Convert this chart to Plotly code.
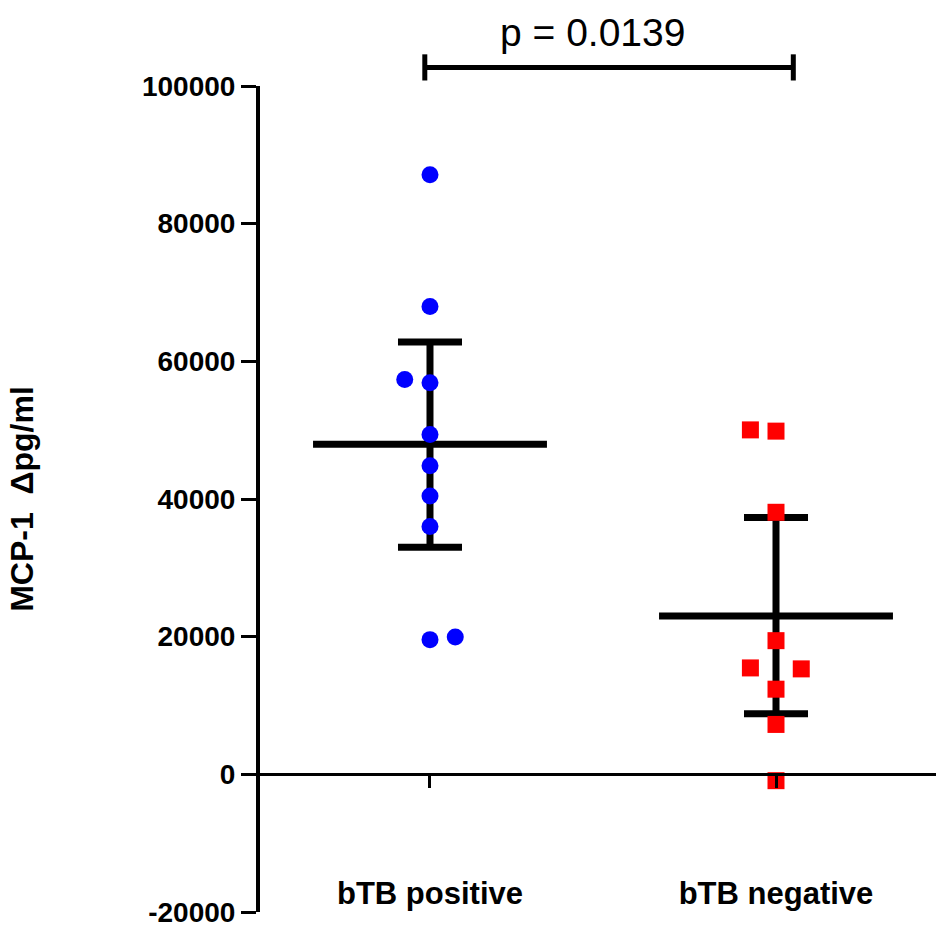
import plotly.graph_objects as go

# ---- data ----
categories = ["bTB positive", "bTB negative"]
positive_values = [87100, 67970, 57350, 56900, 49380, 44830, 40430, 35990, 19570, 19950]
positive_jitter = [0, 0, -0.073, 0, 0, 0, 0, 0, 0, 0.073]
negative_values = [50040, 49860, 38070, 19420, 15460, 15320, 12370, 7250, -920]
negative_jitter = [-0.074, 0, 0, 0, -0.074, 0.073, 0, 0, 0]
means = [47950, 23000]
err_upper = [62800, 37300]
err_lower = [33000, 8800]
y_ticks = [-20000, 0, 20000, 40000, 60000, 80000, 100000]
y_tick_labels = ["-20000", "0", "20000", "40000", "60000", "80000", "100000"]
p_text = "p = 0.0139"
bracket_level = 102700
bracket_tick = 1900

y_min, y_max = -20000, 100000
mean_half = 0.338
cap_half = 0.0925
FONT = "Liberation Sans, Arial"

fig = go.Figure()

# error bars + mean lines
for i, (m, lo, hi) in enumerate(zip(means, err_lower, err_upper)):
    c = i + 1
    xs = [c - mean_half, c + mean_half, None, c, c, None,
          c - cap_half, c + cap_half, None, c - cap_half, c + cap_half]
    ys = [m, m, None, lo, hi, None, hi, hi, None, lo, lo]
    fig.add_trace(go.Scatter(x=xs, y=ys, mode="lines",
                             line=dict(color="black", width=7),
                             hoverinfo="skip", showlegend=False))

fig.add_trace(go.Scatter(
    x=[1 + j for j in positive_jitter], y=positive_values, mode="markers",
    marker=dict(symbol="circle", size=17, color="#0000FF", line=dict(width=0)),
    name=categories[0], showlegend=False))
fig.add_trace(go.Scatter(
    x=[2 + j for j in negative_jitter], y=negative_values, mode="markers",
    marker=dict(symbol="square", size=17, color="#FF0000", line=dict(width=0)),
    name=categories[1], showlegend=False))

def to_paper(v):
    return (v - y_min) / (y_max - y_min)

bx0, bx1 = 0.985, 2.05
by = to_paper(bracket_level)
bt = to_paper(bracket_level + bracket_tick) - by
line_style = dict(color="black", width=5)
fig.add_shape(type="line", xref="x", yref="paper", x0=bx0, x1=bx1, y0=by, y1=by, line=line_style)
fig.add_shape(type="line", xref="x", yref="paper", x0=bx0, x1=bx0, y0=by - bt, y1=by + bt, line=line_style)
fig.add_shape(type="line", xref="x", yref="paper", x0=bx1, x1=bx1, y0=by - bt, y1=by + bt, line=line_style)
fig.add_annotation(xref="x", yref="paper", x=1.471, y=to_paper(bracket_level + 5000),
                   text=p_text, showarrow=False, yanchor="middle",
                   font=dict(family=FONT, size=39, color="black"))

fig.update_layout(
    width=936, height=928,
    margin=dict(l=260, r=0, t=86, b=14),
    paper_bgcolor="white", plot_bgcolor="white",
    xaxis=dict(
        range=[0.5087, 2.4624], anchor="free", position=to_paper(0),
        tickvals=[1, 2], ticktext=categories,
        showline=True, linecolor="black", linewidth=3,
        ticks="outside", ticklen=12, tickwidth=3, tickcolor="black",
        ticklabelstandoff=78,
        tickfont=dict(family=FONT, size=31, color="black", weight="bold"),
        showgrid=False, zeroline=False,
    ),
    yaxis=dict(
        range=[y_min, y_max], tickvals=y_ticks, ticktext=y_tick_labels,
        ticklabeloverflow="allow",
        showline=True, linecolor="black", linewidth=4,
        ticks="outside", ticklen=15, tickwidth=3, tickcolor="black",
        tickfont=dict(family=FONT, size=28, color="black", weight="bold"),
        showgrid=False, zeroline=False,
        title=dict(text="MCP-1  Δpg/ml", standoff=100,
                   font=dict(family=FONT, size=32, color="black", weight="bold")),
    ),
)

fig.write_html("out.html")
